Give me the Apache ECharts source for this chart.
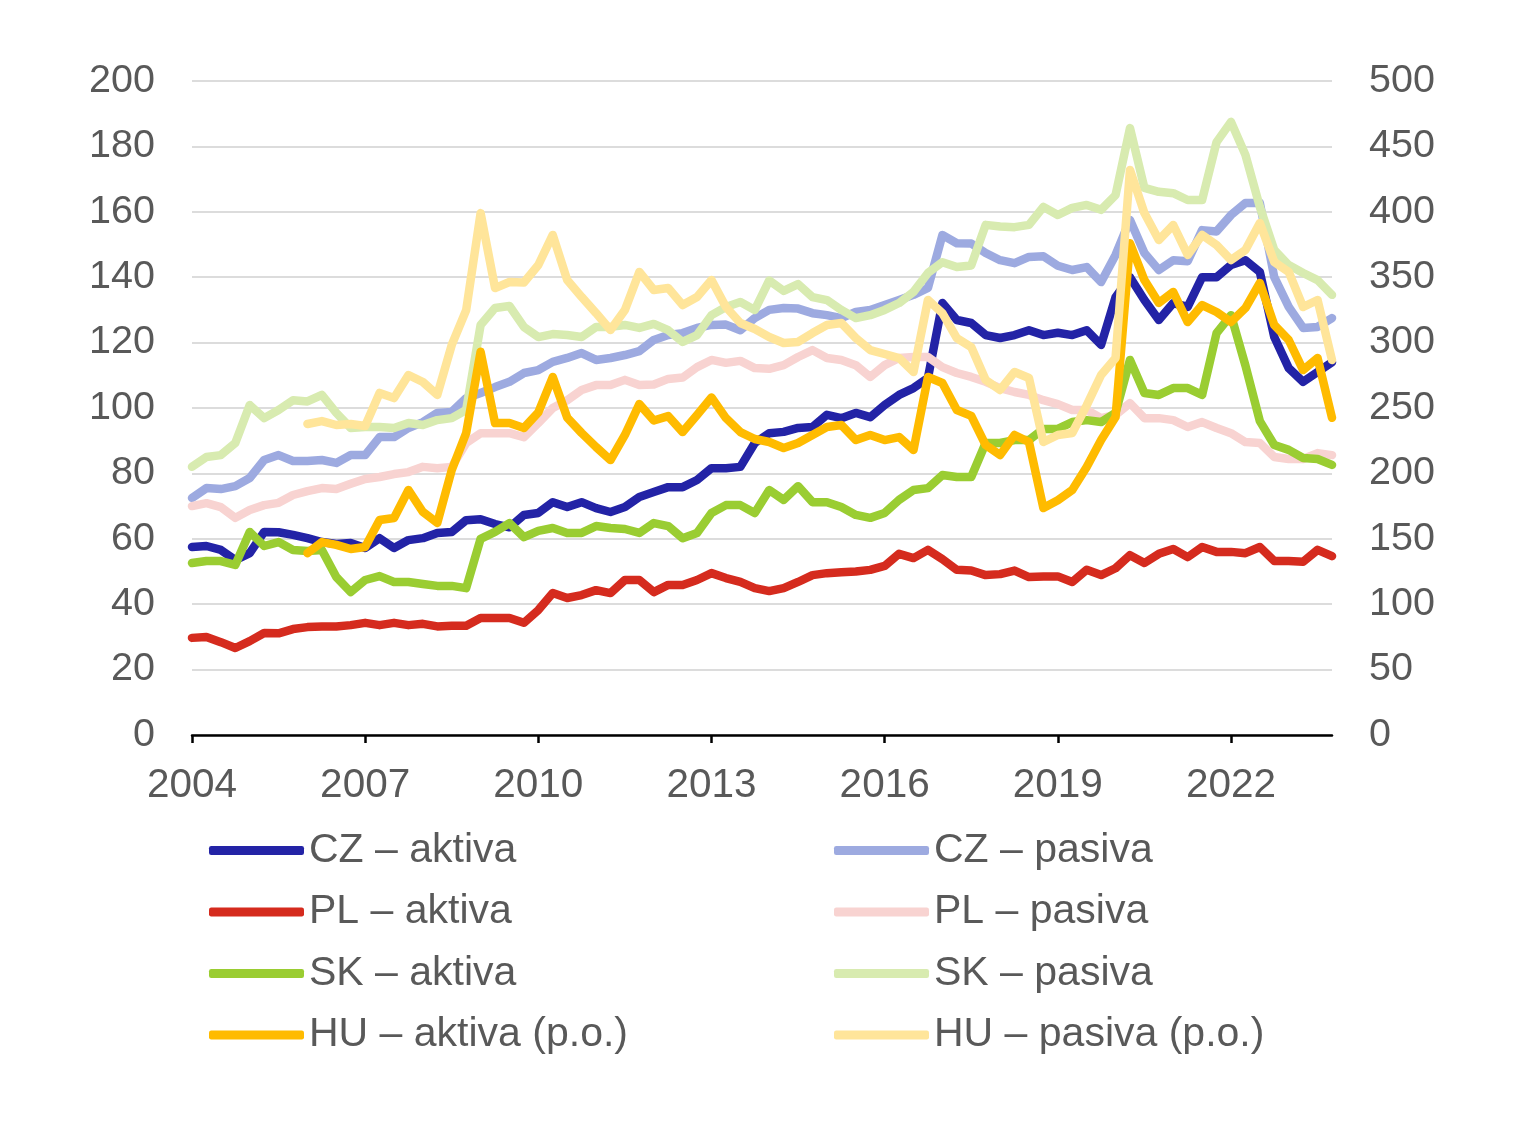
<!DOCTYPE html>
<html>
<head>
<meta charset="utf-8" />
<title>Aktiva a pasiva</title>
<style type="text/css">
body,div{margin:0;padding:0;background:#fff;}
#chart{width:1529px;height:1126px;}
</style>
<script src="https://cdn.jsdelivr.net/npm/echarts@6/dist/echarts.min.js"></script>
</head>
<body>
<div id="chart"></div>
<script type="text/javascript">
// ctvrtletni data 2004 Q1 - 2023 Q4
var quarters = [];
for (var y = 2004; y <= 2023; y++) {
    for (var q = 1; q <= 4; q++) quarters.push(y + ' Q' + q);
}

var czAktiva = [57.5, 57.8, 56.6, 53.5, 55.6, 62.1, 62.0, 61.2, 60.2, 59.0,
    58.4, 58.7, 57.2, 60.2, 57.2, 59.6, 60.2, 61.8, 62.1, 65.7,
    66.0, 64.5, 63.5, 67.3, 67.9, 71.2, 69.7, 71.2, 69.4, 68.2,
    69.7, 72.8, 74.3, 75.8, 75.8, 78.0, 81.6, 81.6, 82.0, 89.3,
    92.3, 92.7, 93.9, 94.2, 97.9, 96.9, 98.5, 97.2, 100.9, 104.0,
    106.1, 109.2, 132.1, 126.9, 126.0, 122.3, 121.4, 122.3, 123.8, 122.3,
    123.0, 122.3, 123.8, 119.3, 133.9, 140.0, 133.0, 126.9, 132.1, 130.9,
    140.0, 140.0, 143.7, 145.2, 141.6, 121.7, 112.2, 108.0, 111.0, 114.0];

var czPasiva = [72.5, 75.5, 75.2, 76.1, 78.6, 84.1, 85.6, 83.8, 83.8, 84.1,
    83.2, 85.6, 85.6, 91.1, 91.1, 93.9, 95.7, 98.5, 98.8, 103.0,
    104.6, 106.4, 108.0, 110.7, 111.6, 114.1, 115.3, 116.8, 114.7, 115.3,
    116.2, 117.4, 120.8, 122.3, 122.9, 124.5, 125.4, 125.5, 123.8, 127.5,
    130.0, 130.6, 130.4, 129.0, 128.4, 127.5, 129.4, 130.0, 131.5, 133.0,
    134.6, 136.7, 152.9, 150.4, 150.3, 147.4, 145.2, 144.3, 146.2, 146.4,
    143.5, 142.2, 143.1, 138.5, 146.8, 157.5, 147.4, 142.2, 145.2, 144.9,
    154.4, 154.0, 159.0, 162.7, 162.7, 140.0, 130.9, 124.5, 124.8, 127.5];

var plAktiva = [29.7, 30.0, 28.4, 26.6, 28.7, 31.2, 31.1, 32.4, 33.0, 33.2,
    33.2, 33.6, 34.3, 33.6, 34.3, 33.6, 34.0, 33.2, 33.4, 33.4,
    35.8, 35.8, 35.8, 34.3, 38.2, 43.4, 41.9, 42.8, 44.3, 43.4,
    47.4, 47.4, 43.7, 45.9, 45.9, 47.4, 49.5, 48.0, 46.8, 44.9,
    44.0, 44.9, 46.8, 48.9, 49.5, 49.8, 50.0, 50.5, 51.7, 55.4,
    54.1, 56.6, 53.8, 50.5, 50.3, 48.9, 49.2, 50.3, 48.3, 48.5,
    48.5, 46.8, 50.5, 48.9, 51.0, 55.0, 52.6, 55.4, 56.9, 54.4,
    57.5, 56.0, 56.0, 55.6, 57.5, 53.2, 53.2, 53.0, 56.6, 54.7];

var plPasiva = [70.0, 70.9, 69.7, 66.4, 68.8, 70.3, 71.0, 73.4, 74.6, 75.5,
    75.2, 76.8, 78.3, 78.9, 79.8, 80.4, 82.0, 81.6, 82.0, 89.3,
    92.3, 92.3, 92.3, 91.1, 95.4, 100.0, 102.4, 105.5, 107.0, 107.0,
    108.6, 107.0, 107.2, 108.9, 109.3, 112.5, 114.7, 113.8, 114.4, 112.2,
    112.0, 113.1, 115.6, 117.7, 115.3, 114.7, 113.1, 109.5, 113.1, 115.3,
    115.6, 115.6, 112.5, 110.7, 109.5, 108.0, 106.1, 104.9, 104.0, 102.4,
    101.2, 99.4, 99.4, 96.9, 97.9, 101.5, 96.9, 96.9, 96.3, 94.2,
    95.7, 93.9, 92.3, 89.6, 89.3, 85.0, 84.4, 84.4, 86.2, 85.6];

var skAktiva = [52.6, 53.2, 53.2, 52.0, 62.1, 57.8, 59.0, 56.6, 56.3, 56.6,
    48.3, 43.7, 47.4, 48.6, 46.8, 46.8, 46.2, 45.6, 45.6, 44.9,
    60.0, 62.1, 64.8, 60.5, 62.4, 63.3, 61.8, 61.8, 63.9, 63.3,
    63.0, 61.8, 64.8, 63.9, 60.2, 61.8, 67.9, 70.3, 70.3, 67.9,
    74.9, 71.9, 76.1, 71.2, 71.2, 69.7, 67.3, 66.4, 67.9, 71.9,
    74.9, 75.5, 79.5, 78.9, 78.9, 89.3, 89.3, 90.2, 90.2, 93.6,
    93.6, 95.7, 96.3, 95.7, 98.5, 114.7, 104.6, 104.0, 106.1, 106.1,
    104.0, 122.9, 128.4, 113.0, 96.0, 88.7, 87.2, 84.7, 84.4, 82.6];

var skPasiva = [82.0, 85.0, 85.6, 89.3, 100.9, 96.9, 99.4, 102.4, 102.0, 104.0,
    98.5, 93.9, 94.2, 94.2, 93.9, 95.4, 94.8, 96.3, 96.9, 99.4,
    125.4, 130.6, 131.2, 124.8, 121.7, 122.6, 122.3, 121.7, 124.8, 124.8,
    125.4, 124.5, 125.7, 123.8, 120.2, 122.3, 128.4, 130.9, 132.4, 130.0,
    139.0, 135.8, 137.9, 133.9, 133.0, 130.0, 127.5, 128.4, 130.0, 132.1,
    135.5, 141.3, 144.6, 143.1, 143.6, 156.0, 155.5, 155.3, 156.0, 161.5,
    159.0, 161.2, 162.1, 160.6, 165.1, 185.6, 167.3, 166.1, 165.7, 163.6,
    163.6, 181.3, 187.5, 177.4, 161.5, 148.3, 143.7, 141.3, 139.1, 134.6];

// HU na prave ose, data od 2006 Q1
var huAktiva = [null, null, null, null, null, null, null, null,
    139.0, 147.5, 145.3, 142.2, 143.7, 164.4, 165.9, 187.3, 170.5, 162.1, 202.6, 230.9,
    293.0, 238.5, 238.5, 234.7, 246.6, 273.7, 242.7, 230.9, 220.2, 210.2,
    229.4, 253.0, 240.4, 243.8, 231.6, 244.6, 258.0, 242.3, 231.6, 226.3,
    224.0, 219.4, 223.2, 229.4, 235.5, 237.0, 225.5, 229.4, 225.5, 227.8,
    217.9, 273.7, 269.1, 248.5, 244.0, 221.7, 214.1, 229.4, 224.0, 173.5,
    179.5, 187.3, 204.9, 225.5, 243.1, 376.0, 347.8, 330.3, 338.7, 315.7,
    328.7, 323.4, 315.7, 326.4, 345.6, 313.4, 302.0, 279.0, 288.2, 242.5];

var huPasiva = [null, null, null, null, null, null, null, null,
    237.8, 240.0, 237.0, 237.8, 236.2, 261.5, 257.6, 275.2, 269.9, 260.0, 298.2, 324.9,
    399.0, 341.7, 346.3, 346.0, 359.3, 382.3, 347.8, 334.9, 322.6, 309.6,
    324.9, 354.0, 340.2, 341.7, 328.7, 334.9, 347.8, 327.2, 315.0, 310.4,
    304.3, 299.7, 300.5, 307.3, 313.4, 315.0, 303.5, 294.3, 291.3, 288.2,
    277.5, 332.6, 322.6, 303.5, 296.6, 271.4, 263.8, 277.5, 272.9, 224.0,
    229.4, 230.9, 252.0, 275.2, 288.2, 432.0, 399.0, 378.4, 389.9, 367.0,
    382.3, 374.6, 363.1, 370.8, 391.4, 361.6, 354.0, 327.2, 332.6, 286.7];

var names = ['CZ – aktiva', 'CZ – pasiva', 'PL – aktiva', 'PL – pasiva',
    'SK – aktiva', 'SK – pasiva', 'HU – aktiva (p.o.)', 'HU – pasiva (p.o.)'];
var colors = ['#2323a6', '#9daae0', '#d52b1e', '#f8d3d1',
    '#9acd32', '#d8ebb0', '#ffbb00', '#ffe59a'];
var values = [czAktiva, czPasiva, plAktiva, plPasiva, skAktiva, skPasiva, huAktiva, huPasiva];

var font = "'Liberation Sans', Arial, sans-serif";
var txt = '#595959';

var series = [];
for (var i = 0; i < names.length; i++) {
    series.push({
        name: names[i],
        type: 'line',
        yAxisIndex: i >= 6 ? 1 : 0,
        data: values[i],
        showSymbol: false,
        symbol: 'none',
        connectNulls: false,
        color: colors[i],
        lineStyle: {width: 8.5, color: colors[i], join: 'round', cap: 'round'},
        animation: false
    });
}

var legendBase = {
    orient: 'vertical',
    top: 830,
    padding: 0,
    itemWidth: 95,
    itemHeight: 9,
    itemGap: 20.5,
    icon: 'roundRect',
    textStyle: {fontFamily: font, fontSize: 41, color: txt, lineHeight: 40}
};

var myChart = echarts.init(document.getElementById('chart'));
var option = {
    backgroundColor: '#fff',
    animation: false,
    grid: {left: 192, right: 197, top: 81, bottom: 391},
    legend: [
        Object.assign({}, legendBase, {left: 209, data: [names[0], names[2], names[4], names[6]]}),
        Object.assign({}, legendBase, {left: 834, data: [names[1], names[3], names[5], names[7]]})
    ],
    xAxis: {
        type: 'category',
        data: quarters,
        boundaryGap: false,
        axisLine: {lineStyle: {color: '#000', width: 2.5}},
        axisTick: {interval: 11, length: 8, lineStyle: {color: '#000', width: 2.5}},
        axisLabel: {
            interval: 11,
            margin: 30,
            fontFamily: font, fontSize: 40.5, color: txt,
            formatter: function (v) { return v.slice(0, 4); }
        },
        splitLine: {show: false}
    },
    yAxis: [
        {
            type: 'value', min: 0, max: 200, interval: 20,
            axisLine: {show: false}, axisTick: {show: false},
            axisLabel: {margin: 37, fontFamily: font, fontSize: 39.5, color: txt},
            splitLine: {lineStyle: {color: '#d0d0d0', width: 1.5}}
        },
        {
            type: 'value', min: 0, max: 500, interval: 50,
            axisLine: {show: false}, axisTick: {show: false},
            axisLabel: {margin: 37, fontFamily: font, fontSize: 39.5, color: txt},
            splitLine: {show: false}
        }
    ],
    series: series
};
myChart.setOption(option);
</script>
</body>
</html>
